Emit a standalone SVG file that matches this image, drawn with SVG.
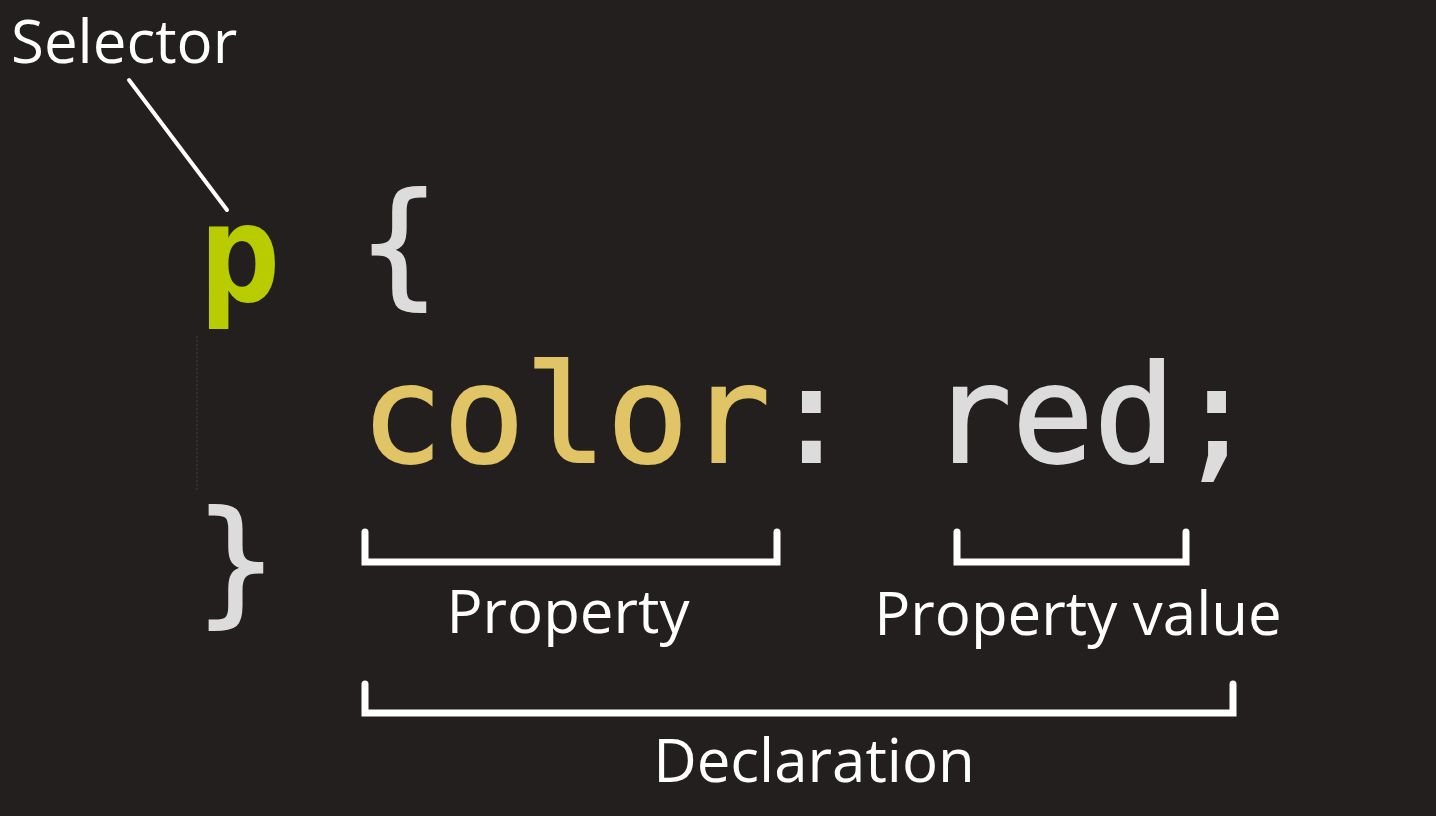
<svg xmlns="http://www.w3.org/2000/svg" width="1436" height="816" viewBox="0 0 1436 816">
<style>
.code{font-family:"DejaVu Sans Mono",monospace;font-size:136px;stroke-width:2;paint-order:stroke}
.lbl{font-family:"Open Sans",sans-serif;font-size:60px;fill:#ffffff}
.br{fill:none;stroke:#ffffff;stroke-width:7;stroke-linecap:round;stroke-linejoin:miter}
</style>
<rect width="1436" height="816" fill="#231f1e"/>
<line x1="197" y1="336" x2="197" y2="490" stroke="#3a3634" stroke-width="1.5" stroke-dasharray="2 2"/>
<g id="code">
<text class="code" x="199" y="301" fill="#b8cc00" font-weight="bold" font-size="134" stroke="none">p</text>
<text class="code" x="358" y="290" fill="#dcdcdc" stroke="#dcdcdc">{</text>
<text class="code" x="361" y="462" fill="#e0c466" stroke="#e0c466">color<tspan fill="#dcdcdc" stroke="#dcdcdc">:</tspan></text>
<text class="code" x="930" y="462" fill="#dcdcdc" stroke="#dcdcdc">red;</text>
<text class="code" x="195" y="608" fill="#dcdcdc" stroke="#dcdcdc">}</text>
</g>
<g id="connectors">
<line x1="129" y1="80" x2="227" y2="210" stroke="#ffffff" stroke-width="4" stroke-linecap="round"/>
<path class="br" d="M365 532 V562 H777 V532"/>
<path class="br" d="M957 532 V562 H1186 V532"/>
<path class="br" d="M365 684 V713 H1233 V684"/>
</g>
<g id="selector"><text class="lbl" x="11" y="63">Selector</text></g>
<g id="property"><text class="lbl" x="568" y="633" text-anchor="middle">Property</text></g>
<g id="property-value"><text class="lbl" x="1078" y="635" text-anchor="middle">Property value</text></g>
<g id="declaration"><text class="lbl" x="814" y="782" text-anchor="middle">Declaration</text></g>
</svg>
